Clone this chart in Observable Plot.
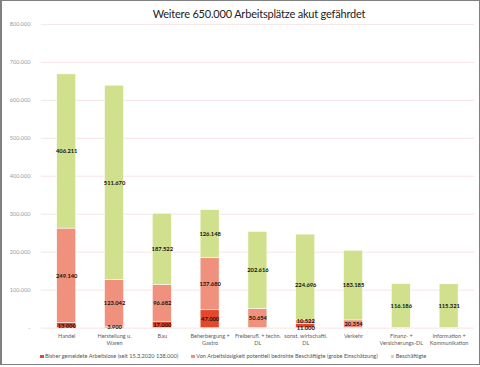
<!DOCTYPE html>
<html><head><meta charset="utf-8">
<script src="https://cdn.jsdelivr.net/npm/d3@7"></script>
<script src="https://cdn.jsdelivr.net/npm/@observablehq/plot@0.6"></script>
<style>
html,body{margin:0;padding:0;background:#fff;}
#frame{position:relative;width:477px;height:363px;border:1px solid #808080;border-left-width:2px;overflow:hidden;font-family:Lato,"Open Sans",sans-serif;}
#title{position:absolute;left:0;width:514px;top:6px;text-align:center;font-size:11px;color:#222;letter-spacing:-0.2px;}
#legend{position:absolute;left:38px;top:351px;font-size:5.6px;color:#555;white-space:nowrap;}
#legend span.sw{display:inline-block;width:3.5px;height:3.5px;margin-right:1.5px;vertical-align:middle;}
#legend span.it{margin-right:13px;}
#chart{position:absolute;left:-3px;top:-1px;}
</style></head>
<body>
<div id="frame">
<div id="chart"></div>
<div id="title">Weitere 650.000 Arbeitsplätze akut gefährdet</div>
<div id="legend"></div>
</div>
<script>
const categories = ["Handel","Herstellung u.\nWaren","Bau","Beherbergung +\nGastro","Freiberufl. + techn.\nDL","sonst. wirtschaftl.\nDL","Verkehr","Finanz- +\nVersicherungs-DL","Information +\nKommunikation"];
const arbeitslose = [13000, 3900, 17000, 47000, 0, 11000, 0, 0, 0];
const bedroht = [249140, 123042, 96682, 137680, 50654, 10522, 20354, 0, 0];
const beschaeftigte = [406211, 511670, 187522, 126148, 202616, 224696, 183185, 116186, 115321];
const seriesNames = ["Bisher gemeldete Arbeitslose (seit 15.3.2020 138.000)","Von Arbeitslosigkeit potentiell bedrohte Beschäftigte (grobe Einschätzung)","Beschäftigte"];
const seriesColors = ["#e4472a","#ef917c","#d1e08d"];
const yTicks = [0,100000,200000,300000,400000,500000,600000,700000,800000];

const fmt = v => v === 0 ? "-" : d3.format(",")(v).replace(/,/g, ".");
const rows = [];
categories.forEach((c, i) => {
  [arbeitslose, bedroht, beschaeftigte].forEach((arr, s) => {
    if (arr[i] > 0) rows.push({cat: c, series: seriesNames[s], s, value: arr[i], idx: i});
  });
});
// small adjacent segments in one column: nudge labels apart
const crowded = i => arbeitslose[i] > 0 && arbeitslose[i] < 15000 && bedroht[i] < 15000;
const lbl = () => ({x: "cat", y: "value", order: "s", text: d => fmt(d.value), fontSize: 5.8, fill: "#111", fontWeight: "bold"});

const chart = Plot.plot({
  width: 482, height: 365,
  marginLeft: 42, marginRight: 5, marginTop: 24, marginBottom: 36,
  style: {fontFamily: "Lato, 'Open Sans', sans-serif", background: "transparent"},
  x: {domain: categories, paddingInner: 0.6, paddingOuter: 0.3, label: null},
  y: {domain: [0, 800000], label: null},
  color: {domain: seriesNames, range: seriesColors},
  marks: [
    Plot.ruleY(yTicks, {stroke: "#f7e4e4", strokeWidth: 1}),
    Plot.axisY({ticks: yTicks, tickFormat: fmt, tickSize: 0, tickPadding: 11, fontSize: 5.6, fill: "#9a9a9a", label: null}),
    Plot.axisX({tickSize: 0, tickPadding: 4, fontSize: 5.6, fill: "#606060", label: null, lineHeight: 1.4}),
    Plot.barY(rows, Plot.stackY({x: "cat", y: "value", fill: "series", order: "s", stroke: "#fff", strokeWidth: 0.5})),
    Plot.text(rows, Plot.stackY({...lbl(), filter: d => !crowded(d.idx)})),
    Plot.text(rows, Plot.stackY({...lbl(), filter: d => crowded(d.idx) && d.s === 0, dy: 2})),
    Plot.text(rows, Plot.stackY({...lbl(), filter: d => crowded(d.idx) && d.s === 1, dy: -5})),
    Plot.text(rows, Plot.stackY({...lbl(), filter: d => crowded(d.idx) && d.s === 2}))
  ]
});
document.getElementById("chart").appendChild(chart);
const lg = document.getElementById("legend");
seriesNames.forEach((n, i) => {
  const it = document.createElement("span");
  it.className = "it";
  it.innerHTML = `<span class="sw" style="background:${seriesColors[i]}"></span>${n}`;
  lg.appendChild(it);
});
</script>
</body></html>
